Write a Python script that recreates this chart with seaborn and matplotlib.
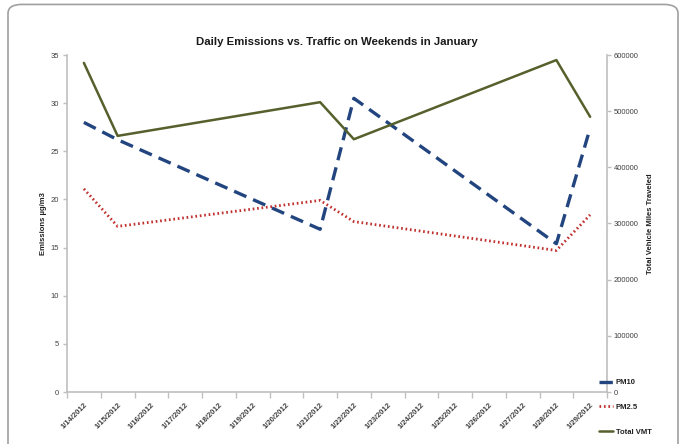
import matplotlib
matplotlib.use('Agg')

import numpy as np
import pandas as pd
import matplotlib.pyplot as plt
import seaborn as sns
from matplotlib.patches import FancyBboxPatch
from matplotlib.lines import Line2D

sns.set_theme(style="white")
plt.rcParams['font.family'] = ['Liberation Sans', 'DejaVu Sans']

# Kategorien: alle Tage vom 14. bis 29. Januar 2012
days = [f"1/{d}/2012" for d in range(14, 30)]

# Messtage (nur Wochenenden)
dates = ["1/14/2012", "1/15/2012", "1/21/2012", "1/22/2012", "1/28/2012", "1/29/2012"]
pm10 = [28.0, 26.2, 16.9, 30.5, 15.4, 27.4]
pm25 = [21.1, 17.2, 19.9, 17.7, 14.7, 18.4]
vmt = [586000, 456000, 516000, 450000, 591000, 490000]

left_ticks = [0, 5, 10, 15, 20, 25, 30, 35]
right_ticks = [0, 100000, 200000, 300000, 400000, 500000, 600000]

df = pd.DataFrame({
    'pos': [days.index(d) for d in dates],
    'PM10': pm10,
    'PM2.5': pm25,
    'Total VMT': vmt,
})

c_pm10 = '#23457f'
c_pm25 = '#c0302e'
c_vmt = '#56602c'
c_axis = '#bfbfbf'
c_text = '#404040'

fig = plt.figure(figsize=(6.86, 4.44), dpi=100)
ax = fig.add_axes([67 / 686, 52 / 444, 540 / 686, 337 / 444])
ax2 = ax.twinx()

sns.lineplot(data=df, x='pos', y='PM10', ax=ax, color=c_pm10, linewidth=2.4,
             linestyle=(0, (4, 2.2)))
sns.lineplot(data=df, x='pos', y='PM2.5', ax=ax, color=c_pm25, linewidth=2.0,
             linestyle=(0, (0.6, 1.0)))
sns.lineplot(data=df, x='pos', y='Total VMT', ax=ax2, color=c_vmt, linewidth=1.8)

# Achsen
ax.set_xlim(-0.5, len(days) - 0.5)
ax.set_ylim(0, 35)
ax2.set_ylim(0, 600000)
ax.set_yticks(left_ticks)
ax2.set_yticks(right_ticks)
ax.set_xticks(range(len(days)))
ax.set_xticklabels(days, rotation=45, ha='right', rotation_mode='anchor',
                   fontsize=5.5, fontweight='bold', color=c_text)
ax.set_xticks(np.arange(-0.5, len(days)), minor=True)
ax.tick_params(axis='x', which='major', length=0, pad=7)
ax.tick_params(axis='x', which='minor', length=4, color=c_axis, width=1, bottom=True)
ax.tick_params(axis='y', length=3, color=c_axis, width=1, left=True,
               labelsize=5.5, labelcolor=c_text, pad=3)
ax2.tick_params(axis='y', length=3, color=c_axis, width=1, right=True,
                labelsize=5.5, labelcolor=c_text, pad=2)
ax.set_xlabel('')
ax.set_ylabel('Emissions µg/m3', fontsize=5.5, fontweight='bold', color='#202020', labelpad=2)
ax2.set_ylabel('Total Vehicle Miles Traveled', fontsize=5.5, fontweight='bold',
               color='#202020', labelpad=6)

for a in (ax, ax2):
    a.spines['top'].set_visible(False)
    for side in ('left', 'right', 'bottom'):
        a.spines[side].set_color(c_axis)
        a.spines[side].set_linewidth(1.2)
ax.spines['right'].set_visible(False)
ax2.spines['left'].set_visible(False)
ax2.spines['bottom'].set_visible(False)

ax.set_title('Daily Emissions vs. Traffic on Weekends in January',
             fontsize=8.2, fontweight='bold', color='#1a1a1a', pad=7)

# Legende rechts unten
handles = [
    Line2D([], [], color=c_pm10, linewidth=2.4, linestyle=(0, (4, 2.2))),
    Line2D([], [], color=c_pm25, linewidth=2.0, linestyle=(0, (0.6, 1.0))),
    Line2D([], [], color=c_vmt, linewidth=1.8),
]
fig.legend(handles, ['PM10', 'PM2.5', 'Total VMT'], loc='upper left',
           bbox_to_anchor=(592 / 686, 1 - 372 / 444), frameon=False,
           handlelength=1.9, handletextpad=0.3, labelspacing=2.3,
           labelcolor='#202020', prop={'weight': 'bold', 'size': 5.5})

# Abgerundeter Rahmen
frame = FancyBboxPatch((8 / 686, -0.05), 670 / 686, 1.04, transform=fig.transFigure,
                       boxstyle='round,pad=0,rounding_size=0.02', fill=False,
                       edgecolor='#a0a0a0', linewidth=1.2)
fig.patches.append(frame)

fig.savefig('out.png', dpi=100)
